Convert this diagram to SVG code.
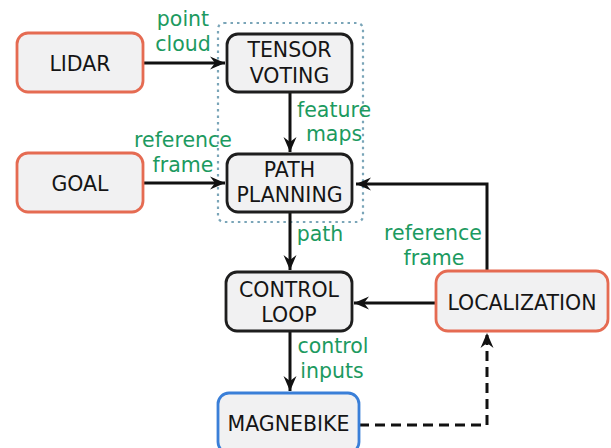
<svg xmlns="http://www.w3.org/2000/svg" width="611" height="448" viewBox="0 0 611 448">
<style>
.box{fill:#f1f1f2;stroke-width:2.8}
.blk{stroke:#1e1e1e}
.red{stroke:#e56b52}
.blue{stroke:#3a7fd8}
.t{font-family:"DejaVu Sans",sans-serif;font-size:20.5px;fill:#151515;text-anchor:middle}
.g{font-family:"DejaVu Sans",sans-serif;font-size:20.5px;fill:#1c9a60;text-anchor:middle}
.c{fill:none;stroke:#111;stroke-width:3}
</style>
<defs>
<marker id="ah" viewBox="-16 -7 17 14" refX="0" refY="0" markerWidth="17" markerHeight="14" markerUnits="userSpaceOnUse" orient="auto">
<path d="M0,0 L-15,-6.5 L-10,0 L-15,6.5 Z" fill="#111"/>
</marker>
</defs>
<rect width="611" height="448" fill="#ffffff"/>
<rect id="group" x="218" y="23" width="145" height="199" rx="6" fill="none" stroke="#7aa5b8" stroke-width="2.2" stroke-dasharray="2.5 4"/>
<g id="connectors">
<line class="c" x1="143" y1="63" x2="225" y2="63" marker-end="url(#ah)"/>
<line class="c" x1="143" y1="183" x2="225" y2="183" marker-end="url(#ah)"/>
<line class="c" x1="290" y1="92" x2="290" y2="152" marker-end="url(#ah)"/>
<line class="c" x1="290" y1="212" x2="290" y2="270" marker-end="url(#ah)"/>
<line class="c" x1="290" y1="331" x2="290" y2="391" marker-end="url(#ah)"/>
<line class="c" x1="436" y1="303" x2="354" y2="303" marker-end="url(#ah)"/>
<polyline class="c" points="487,271 487,184 356,184" marker-end="url(#ah)"/>
<polyline class="c" points="359,425 487,425 487,333" stroke-dasharray="10 6" marker-end="url(#ah)"/>
</g>
<g id="labels">
<text class="g" x="183" y="26">point</text>
<text class="g" x="183" y="51">cloud</text>
<text class="g" x="334" y="117">feature</text>
<text class="g" x="334" y="141">maps</text>
<text class="g" x="183" y="147">reference</text>
<text class="g" x="183" y="172">frame</text>
<text class="g" x="320" y="241">path</text>
<text class="g" x="433" y="240">reference</text>
<text class="g" x="434" y="265">frame</text>
<text class="g" x="333" y="353">control</text>
<text class="g" x="332" y="378">inputs</text>
</g>
<g id="lidar">
<rect class="box red" x="17" y="33" width="126" height="59" rx="11"/>
<text class="t" x="80" y="70.5">LIDAR</text>
</g>
<g id="tensor">
<rect class="box blk" x="227" y="34" width="125" height="58" rx="11"/>
<text class="t" x="289.5" y="57">TENSOR</text>
<text class="t" x="289.5" y="83">VOTING</text>
</g>
<g id="goal">
<rect class="box red" x="17" y="153" width="126" height="59" rx="11"/>
<text class="t" x="80" y="190.5">GOAL</text>
</g>
<g id="path">
<rect class="box blk" x="227" y="154" width="125" height="58" rx="11"/>
<text class="t" x="289.5" y="177">PATH</text>
<text class="t" x="289.5" y="202">PLANNING</text>
</g>
<g id="control">
<rect class="box blk" x="226" y="272" width="126" height="59" rx="11"/>
<text class="t" x="289" y="297">CONTROL</text>
<text class="t" x="289" y="322">LOOP</text>
</g>
<g id="localization">
<rect class="box red" x="436" y="271" width="172" height="60" rx="12"/>
<text class="t" x="522" y="310">LOCALIZATION</text>
</g>
<g id="magnebike">
<rect class="box blue" x="218" y="393" width="141" height="60" rx="11"/>
<text class="t" x="288.5" y="431">MAGNEBIKE</text>
</g>
</svg>
